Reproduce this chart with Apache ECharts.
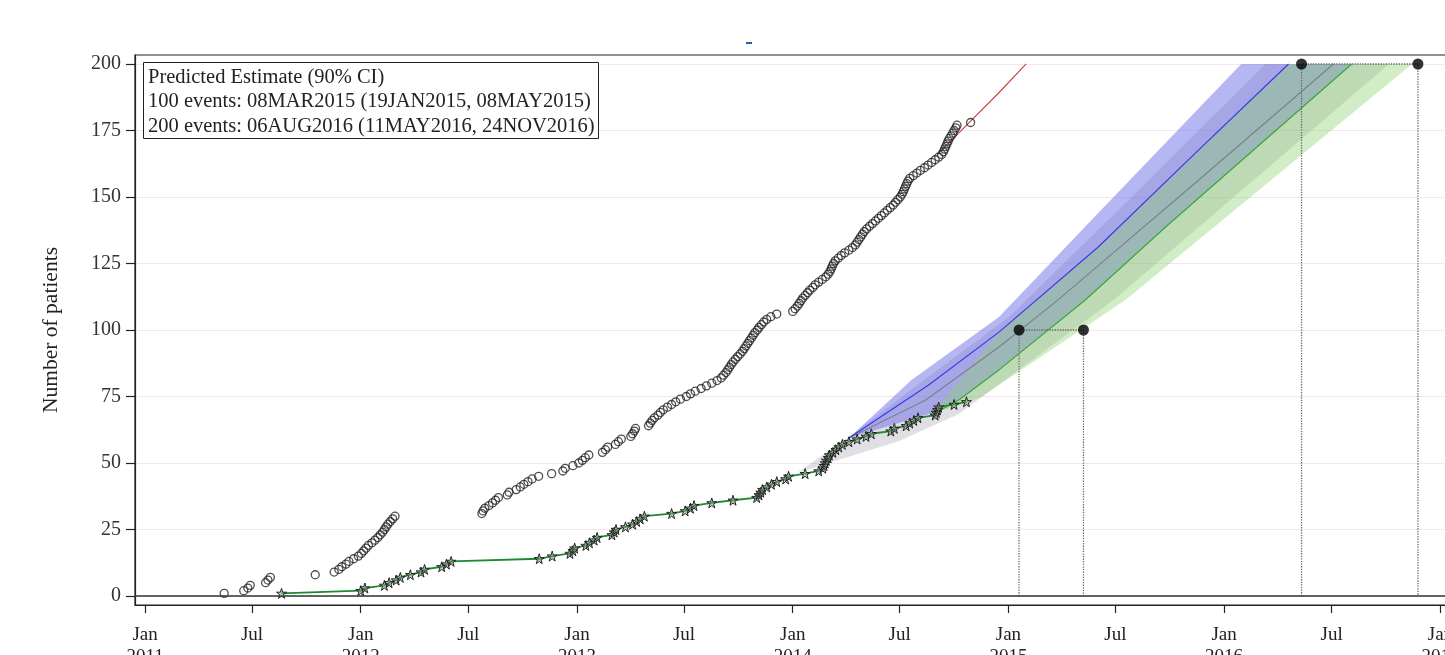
<!DOCTYPE html>
<html><head><meta charset="utf-8">
<script src="https://cdn.jsdelivr.net/npm/echarts@6/dist/echarts.min.js"></script>
<style>html,body{margin:0;padding:0;background:#fff}#c{width:1445px;height:655px}</style>
</head><body><div id="c"></div>
<script>
// ---------- data ----------
const yTicks = [0, 25, 50, 75, 100, 125, 150, 175, 200];
const xTickDates = ['2011-01-01','2011-07-01','2012-01-01','2012-07-01','2013-01-01','2013-07-01','2014-01-01','2014-07-01','2015-01-01','2015-07-01','2016-01-01','2016-07-01','2017-01-01'];
const legendLines = ['Predicted Estimate (90% CI)', '100 events: 08MAR2015 (19JAN2015, 08MAY2015)', '200 events: 06AUG2016 (11MAY2016, 24NOV2016)'];

// enrolled patients (open circles)
const accrual = [
['2011-05-15',1],['2011-06-17',2],['2011-06-24',3],['2011-06-28',4],['2011-07-24',5],['2011-07-28',6],['2011-08-01',7],['2011-10-16',8],
['2011-11-17',9],['2011-11-25',10],['2011-11-30',11],['2011-12-07',12],['2011-12-12',13],['2011-12-20',14],['2011-12-28',15],['2012-01-02',16],
['2012-01-06',17],['2012-01-10',18],['2012-01-14',19],['2012-01-20',20],['2012-01-25',21],['2012-01-30',22],['2012-02-03',23],['2012-02-07',24],
['2012-02-10',25],['2012-02-13',26],['2012-02-16',27],['2012-02-20',28],['2012-02-24',29],['2012-02-28',30],
['2012-07-24',31],['2012-07-26',32],['2012-07-29',33],['2012-08-05',34],['2012-08-11',35],['2012-08-16',36],['2012-08-21',37],['2012-09-05',38],
['2012-09-08',39],['2012-09-20',40],['2012-09-27',41],['2012-10-03',42],['2012-10-10',43],['2012-10-17',44],['2012-10-28',45],['2012-11-19',46],
['2012-12-08',47],['2012-12-12',48],['2012-12-25',49],['2013-01-04',50],['2013-01-10',51],['2013-01-15',52],['2013-01-21',53],['2013-02-13',54],
['2013-02-18',55],['2013-02-22',56],['2013-03-07',57],['2013-03-12',58],['2013-03-17',59],['2013-04-02',60],['2013-04-05',61],['2013-04-08',62],
['2013-04-10',63],['2013-05-02',64],['2013-05-05',65],['2013-05-08',66],['2013-05-12',67],['2013-05-18',68],['2013-05-22',69],['2013-05-27',70],
['2013-06-03',71],['2013-06-10',72],['2013-06-17',73],['2013-06-25',74],['2013-07-05',75],['2013-07-12',76],['2013-07-20',77],['2013-07-30',78],
['2013-08-08',79],['2013-08-17',80],['2013-08-26',81],['2013-09-02',82],['2013-09-06',83],['2013-09-10',84],['2013-09-13',85],['2013-09-16',86],
['2013-09-19',87],['2013-09-22',88],['2013-09-26',89],['2013-09-30',90],['2013-10-04',91],['2013-10-08',92],['2013-10-11',93],['2013-10-14',94],
['2013-10-17',95],['2013-10-20',96],['2013-10-23',97],['2013-10-26',98],['2013-10-29',99],['2013-11-02',100],['2013-11-05',101],['2013-11-09',102],
['2013-11-13',103],['2013-11-18',104],['2013-11-25',105],['2013-12-05',106],['2014-01-01',107],['2014-01-05',108],['2014-01-09',109],['2014-01-12',110],
['2014-01-15',111],['2014-01-18',112],['2014-01-22',113],['2014-01-26',114],['2014-01-30',115],['2014-02-04',116],['2014-02-08',117],['2014-02-14',118],
['2014-02-20',119],['2014-02-26',120],['2014-03-02',121],['2014-03-05',122],['2014-03-07',123],['2014-03-09',124],['2014-03-11',125],['2014-03-14',126],
['2014-03-19',127],['2014-03-24',128],['2014-03-30',129],['2014-04-06',130],['2014-04-12',131],['2014-04-17',132],['2014-04-20',133],['2014-04-23',134],
['2014-04-26',135],['2014-04-29',136],['2014-05-02',137],['2014-05-06',138],['2014-05-11',139],['2014-05-16',140],['2014-05-21',141],['2014-05-26',142],
['2014-05-31',143],['2014-06-05',144],['2014-06-10',145],['2014-06-15',146],['2014-06-20',147],['2014-06-24',148],['2014-06-28',149],['2014-07-02',150],
['2014-07-05',151],['2014-07-07',152],['2014-07-09',153],['2014-07-11',154],['2014-07-13',155],['2014-07-15',156],['2014-07-18',157],['2014-07-24',158],
['2014-07-30',159],['2014-08-05',160],['2014-08-12',161],['2014-08-18',162],['2014-08-24',163],['2014-08-30',164],['2014-09-05',165],['2014-09-10',166],
['2014-09-13',167],['2014-09-15',168],['2014-09-17',169],['2014-09-19',170],['2014-09-21',171],['2014-09-23',172],['2014-09-26',173],['2014-09-29',174],
['2014-10-01',175],['2014-10-04',176],['2014-10-06',177],['2014-10-29',178]
];

// observed events (stars)
const events = [
['2011-08-20',1],['2012-01-01',2],['2012-01-08',3],['2012-02-10',4],['2012-02-18',5],['2012-03-01',6],['2012-03-08',7],['2012-03-25',8],
['2012-04-12',9],['2012-04-18',10],['2012-05-17',11],['2012-05-25',12],['2012-06-02',13],['2012-10-29',14],['2012-11-20',15],['2012-12-20',16],
['2012-12-25',17],['2012-12-28',18],['2013-01-16',19],['2013-01-22',20],['2013-01-30',21],['2013-02-04',22],['2013-03-01',23],['2013-03-05',24],
['2013-03-08',25],['2013-03-24',26],['2013-04-05',27],['2013-04-12',28],['2013-04-18',29],['2013-04-25',30],['2013-06-10',31],['2013-07-03',32],
['2013-07-12',33],['2013-07-18',34],['2013-08-17',35],['2013-09-22',36],['2013-11-01',37],['2013-11-05',38],['2013-11-08',39],['2013-11-11',40],
['2013-11-18',41],['2013-11-26',42],['2013-12-05',43],['2013-12-20',44],['2013-12-25',45],['2014-01-22',46],['2014-02-14',47],['2014-02-21',48],
['2014-02-23',49],['2014-02-25',50],['2014-02-27',51],['2014-03-02',52],['2014-03-04',53],['2014-03-10',54],['2014-03-15',55],['2014-03-20',56],
['2014-03-26',57],['2014-04-06',58],['2014-04-20',59],['2014-05-05',60],['2014-05-14',61],['2014-06-16',62],['2014-06-22',63],['2014-07-12',64],
['2014-07-18',65],['2014-07-25',66],['2014-08-01',67],['2014-08-30',68],['2014-09-01',69],['2014-09-03',70],['2014-09-05',71],['2014-10-01',72],
['2014-10-22',73]
];

// accrual projection (red)
const accrualProjection = [['2014-09-03',166],['2014-10-29',178.5],['2014-12-15',189],['2015-01-31',200]];

// predicted lines
const blueLine  = [['2014-04-06',59.4],['2014-08-19',79.3],['2014-12-16',99.2],['2015-06-02',131.2],['2015-11-19',167.7],['2016-04-19',200]];
const greyLine  = [['2014-04-06',59.4],['2014-08-14',73.7],['2014-12-16',93.6],['2015-03-26',111.3],['2015-11-19',156.4],['2016-07-04',200]];
const greenLine = [['2014-08-30',68.8],['2014-10-09',73.7],['2014-12-16',85],['2015-05-11',111.3],['2015-09-24',138.7],['2016-08-04',200]];

// predicted bands (outline vertices: left edge upward, then right edge downward)
const blueBand  = [['2014-04-06',59.4],['2014-07-21',81.2],['2014-12-16',104.9],['2015-06-02',144],['2016-01-30',200],
                   ['2016-08-04',200],['2015-09-24',138.7],['2015-05-11',111.3],['2014-12-16',85],['2014-10-09',73.7],['2014-08-25',68.8]];
const greyBand  = [['2014-01-08',46.2],['2014-04-06',59.8],['2014-08-11',81.2],['2015-01-02',104.9],['2015-07-01',144],['2016-03-11',200],
                   ['2016-10-06',200],['2015-06-28',111.3],['2014-10-09',68.4],['2014-06-30',58.3]];
const greenBand = [['2014-08-25',68.4],['2014-12-16',99.2],['2015-06-02',131.2],['2015-11-19',167.7],['2016-04-19',200],
                   ['2016-11-14',200],['2015-07-18',111.3],['2014-11-13',74.4]];

// 100 / 200 event CI markers
const ci100 = [['2015-01-19',100],['2015-05-08',100]];
const ci200 = [['2016-05-11',200],['2016-11-24',200]];

// ---------- chart ----------
const P = s => echarts.time.parse(s).getTime();
const T = arr => arr.map(d => [P(d[0]), d[1]]);
const SERIF = 'Liberation Serif';
const STAR = 'path://M50,0 L61,35 L98,35 L68,57 L79,91 L50,70 L21,91 L32,57 L2,35 L39,35 Z';

function band(pts, fill) {
  const data = T(pts);
  return {
    type: 'custom', coordinateSystem: 'cartesian2d', silent: true, z: 1,
    data: data, encode: { x: 0, y: 1 },
    renderItem: function (params, api) {
      if (params.dataIndex !== 0) return null;
      const points = data.map(p => api.coord(p));
      return { type: 'polygon', shape: { points: points }, style: { fill: fill } };
    }
  };
}
function dropLines(pair) {
  return T([[pair[0][0], 0], pair[0], pair[1], [pair[1][0], 0]]);
}
const xTicks = xTickDates.map(P);

const chart = echarts.init(document.getElementById('c'));
chart.setOption({
  animation: false,
  title: [{
    text: legendLines.join('\n'), left: 143, top: 62, padding: [3, 4, 0, 5],
    borderColor: '#222', borderWidth: 1, backgroundColor: '#fff',
    textStyle: { fontFamily: SERIF, fontSize: 20.5, fontWeight: 'normal', color: '#222', lineHeight: 24.5 }
  }],
  graphic: [{ type: 'rect', shape: { x: 746, y: 42, width: 6, height: 2 }, style: { fill: '#2a5caa' } }],
  grid: { left: 135, top: 55, width: 1332, height: 550, show: true, borderColor: '#222', borderWidth: 1.2,
          outerBoundsMode: 'none', containLabel: false },
  xAxis: {
    type: 'value', min: P('2010-12-15'), max: P('2017-02-15'),
    axisLine: { show: true, onZero: false, lineStyle: { color: '#222', width: 1.2 } },
    axisTick: { show: true, length: 8, lineStyle: { color: '#222', width: 1.2 }, customValues: xTicks },
    axisLabel: {
      customValues: xTicks, margin: 19, fontFamily: SERIF, fontSize: 19, color: '#222', lineHeight: 22,
      hideOverlap: false,
      formatter: function (v) { const d = new Date(v); return d.getMonth() === 0 ? 'Jan\n' + d.getFullYear() : 'Jul'; }
    },
    splitLine: { show: false }
  },
  yAxis: {
    type: 'value', min: -3.38, max: 203.38,
    name: 'Number of patients', nameLocation: 'middle', nameGap: 73,
    nameTextStyle: { fontFamily: SERIF, fontSize: 21.5, color: '#222' },
    axisLine: { show: true, lineStyle: { color: '#222', width: 1.2 } },
    axisTick: { show: true, length: 9, lineStyle: { color: '#222', width: 1.2 }, customValues: yTicks },
    axisLabel: { customValues: yTicks, margin: 14, fontFamily: SERIF, fontSize: 20, color: '#333' },
    splitLine: { show: true, lineStyle: { color: '#f3e6ef', width: 1 } }
  },
  series: [
    band(greyBand, 'rgba(150,150,165,0.30)'),
    band(blueBand, 'rgba(110,110,232,0.50)'),
    band(greenBand, 'rgba(140,210,110,0.40)'),
    { type: 'line', data: T(greyLine), symbol: 'none', z: 2, lineStyle: { color: '#7c7f88', width: 1.1 } },
    { type: 'line', data: T(blueLine), symbol: 'none', z: 2, lineStyle: { color: '#3a3ae6', width: 1.2 } },
    { type: 'line', data: T(greenLine), symbol: 'none', z: 2, lineStyle: { color: '#3aa63a', width: 1.2 } },
    { type: 'line', data: T(accrualProjection), symbol: 'none', z: 2, lineStyle: { color: '#c8413a', width: 1.1 } },
    { type: 'line', data: dropLines(ci100), symbol: 'none', z: 3, lineStyle: { color: '#666', width: 1.3, type: 'dotted' } },
    { type: 'line', data: dropLines(ci200), symbol: 'none', z: 3, lineStyle: { color: '#666', width: 1.3, type: 'dotted' } },
    {
      type: 'scatter', data: T(accrual), symbol: 'circle', symbolSize: 8, z: 4,
      itemStyle: { color: 'rgba(255,255,255,0)', borderColor: '#222', borderWidth: 1.3 },
      markLine: { silent: true, symbol: 'none', label: { show: false }, data: [{ yAxis: 0 }],
                  lineStyle: { color: '#333', width: 1.6, type: 'solid' } }
    },
    {
      type: 'line', data: T(events), symbol: STAR, symbolSize: 10, showAllSymbol: true, z: 5,
      lineStyle: { color: '#1f8a2e', width: 1.8 },
      itemStyle: { color: 'rgba(130,150,130,0.45)', borderColor: '#222', borderWidth: 1 }
    },
    { type: 'scatter', data: T(ci100.concat(ci200)), symbol: 'circle', symbolSize: 11, z: 6, itemStyle: { color: '#000' } }
  ]
});
</script></body></html>
